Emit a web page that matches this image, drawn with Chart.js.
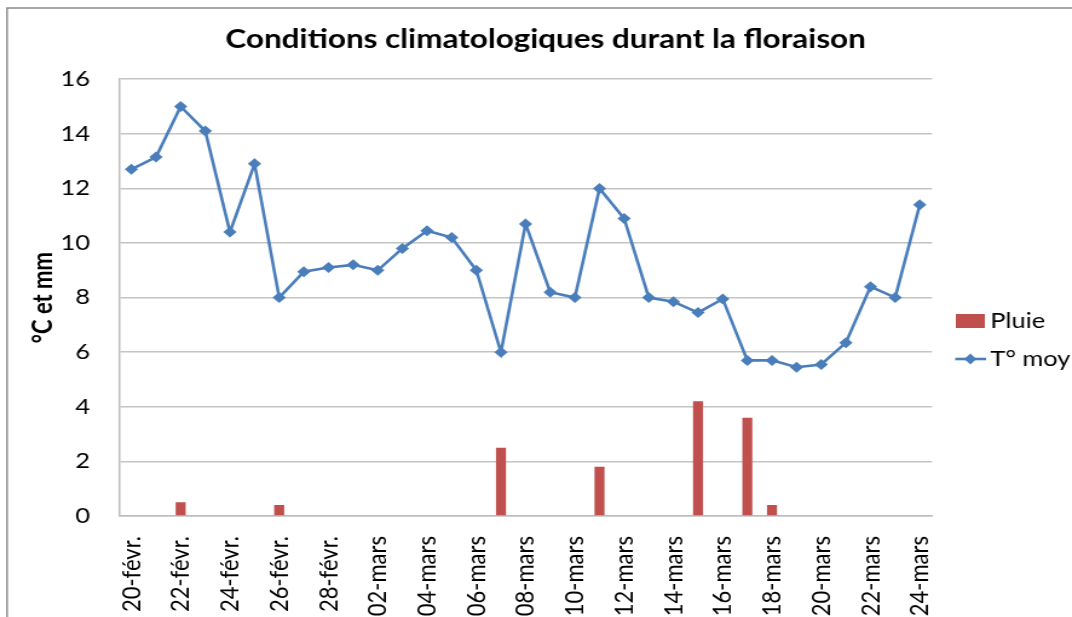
<!DOCTYPE html>
<html>
<head>
<meta charset="utf-8">
<script src="https://cdn.jsdelivr.net/npm/chart.js@4"></script>
<style>
  html, body { margin: 0; padding: 0; background: #fff; overflow: hidden; }
  /* the original picture is stretched sideways, so the chart is drawn narrower and widened */
  #wrap { position: relative; width: 886px; height: 617px; transform: scaleX(1.2099); transform-origin: 0 0; }
</style>
</head>
<body>
<div id="wrap"><canvas id="chart" width="886" height="617"></canvas></div>
<script>
// Data
const days = [
    '20-févr.', '21-févr.', '22-févr.', '23-févr.', '24-févr.', '25-févr.', '26-févr.', '27-févr.', '28-févr.',
    '01-mars', '02-mars', '03-mars', '04-mars', '05-mars', '06-mars', '07-mars', '08-mars', '09-mars',
    '10-mars', '11-mars', '12-mars', '13-mars', '14-mars', '15-mars', '16-mars', '17-mars', '18-mars',
    '19-mars', '20-mars', '21-mars', '22-mars', '23-mars', '24-mars'
];
const tempMoy = [
    12.7, 13.15, 15.0, 14.1, 10.4, 12.9, 8.0, 8.95, 9.1,
    9.2, 9.0, 9.8, 10.45, 10.2, 9.0, 6.0, 10.7, 8.2,
    8.0, 12.0, 10.9, 8.0, 7.85, 7.45, 7.95, 5.7, 5.7,
    5.45, 5.55, 6.35, 8.4, 8.0, 11.4
];
const pluie = [
    null, null, 0.5, null, null, null, 0.4, null, null,
    null, null, null, null, null, null, 2.5, null, null,
    null, 1.8, null, null, null, 4.2, null, 3.6, 0.4,
    null, null, null, null, null, null
];
const yTicks = [0, 2, 4, 6, 8, 10, 12, 14, 16];

const FONT = 'Lato, "Open Sans", sans-serif';
const BLUE = '#4a7ebb';
const RED = '#c0504d';

// Frame around the chart (only left and top visible in the crop)
const framePlugin = {
    id: 'frame',
    beforeDraw(chart) {
        const ctx = chart.ctx;
        ctx.save();
        ctx.fillStyle = '#fff';
        ctx.fillRect(0, 0, chart.width, chart.height);
        ctx.strokeStyle = '#8a8a8a';
        ctx.lineWidth = 1.5;
        ctx.beginPath();
        ctx.moveTo(5.8, chart.height);
        ctx.lineTo(5.8, 8);
        ctx.lineTo(chart.width, 8);
        ctx.stroke();
        ctx.restore();
    },
    // move the title a bit to the right, where Excel centred it
    afterLayout(chart) {
        const t = chart.titleBlock;
        const half = (t.right - t.left) / 2;
        t.left = 451 - half;
        t.right = 451 + half;
    }
};

// Legend drawn at the place Excel put it
const legendPlugin = {
    id: 'sideLegend',
    afterDraw(chart) {
        const ctx = chart.ctx;
        const ds = chart.data.datasets;
        ctx.save();
        ctx.font = '21px ' + FONT;
        ctx.textBaseline = 'middle';
        // Pluie
        ctx.fillStyle = RED;
        ctx.fillRect(790, 314, 24, 14);
        ctx.fillStyle = '#000';
        ctx.fillText(ds[1].label, 818.5, 321);
        // T° moy
        ctx.strokeStyle = BLUE;
        ctx.lineWidth = 2.6;
        ctx.beginPath();
        ctx.moveTo(789.5, 359);
        ctx.lineTo(815, 359);
        ctx.stroke();
        ctx.fillStyle = BLUE;
        ctx.beginPath();
        ctx.moveTo(802, 353.5);
        ctx.lineTo(807, 359);
        ctx.lineTo(802, 364.5);
        ctx.lineTo(797, 359);
        ctx.closePath();
        ctx.fill();
        ctx.fillStyle = '#000';
        ctx.fillText(ds[0].label, 818.5, 359);
        ctx.restore();
    }
};

new Chart(document.getElementById('chart').getContext('2d'), {
    type: 'bar',
    data: {
        labels: days,
        datasets: [{
            type: 'line',
            label: 'T° moy',
            data: tempMoy,
            borderColor: BLUE,
            backgroundColor: BLUE,
            borderWidth: 2.6,
            pointStyle: 'rectRot',
            pointRadius: 5.5,
            pointBorderWidth: 0,
            tension: 0,
            order: 0
        }, {
            type: 'bar',
            label: 'Pluie',
            data: pluie,
            backgroundColor: RED,
            categoryPercentage: 1,
            barPercentage: 0.406,
            order: 1
        }]
    },
    options: {
        responsive: false,
        animation: false,
        layout: { padding: { left: 5, right: 115.6, top: 4, bottom: 0 } },
        plugins: {
            legend: { display: false },
            tooltip: { enabled: false },
            title: {
                display: true,
                text: 'Conditions climatologiques durant la floraison',
                color: '#000',
                font: { family: FONT, size: 26, weight: 'bold' },
                padding: { top: 20, bottom: 24 }
            }
        },
        scales: {
            x: {
                offset: true,
                grid: { display: false },
                border: { display: true, color: '#bdbdbd', width: 1.5 },
                ticks: {
                    autoSkip: false,
                    maxRotation: 90,
                    minRotation: 90,
                    padding: 12,
                    color: '#000',
                    font: { family: FONT, size: 22 },
                    callback: (v, i) => (i % 2 === 0 ? days[i] : '')
                },
                afterFit(scale) { scale.height = 101; }
            },
            y: {
                min: 0,
                max: 16,
                afterBuildTicks(scale) { scale.ticks = yTicks.map(v => ({ value: v })); },
                grid: { color: '#c4c4c4', lineWidth: 1.5, drawTicks: false },
                border: { display: true, color: '#bdbdbd', width: 1.5 },
                ticks: {
                    padding: 24,
                    color: '#000',
                    font: { family: FONT, size: 21 }
                },
                title: {
                    display: true,
                    text: '°C et mm',
                    color: '#000',
                    font: { family: FONT, size: 22, weight: 'bold' },
                    padding: { top: 18, bottom: 0 }
                },
                afterFit(scale) { scale.width = 93.4; }
            }
        }
    },
    plugins: [framePlugin, legendPlugin]
});
</script>
</body>
</html>
